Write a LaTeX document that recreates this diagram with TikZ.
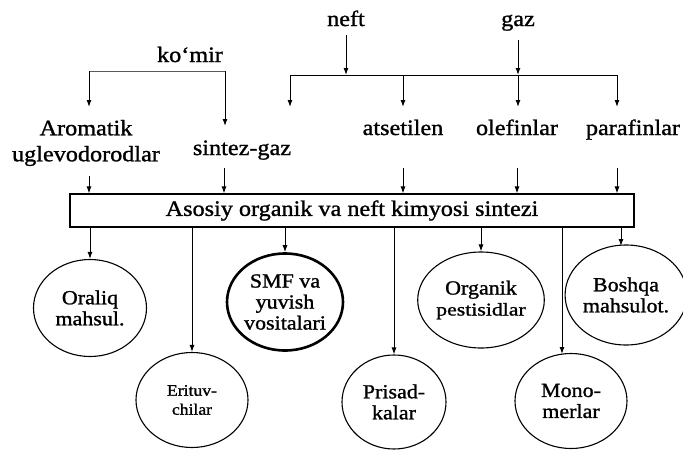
\documentclass[tikz,border=0pt]{standalone}
\usepackage{fontspec}
\usepackage{graphicx}
\setmainfont{Liberation Serif}[FakeStretch=1.1,FakeBold=1.2]
\usetikzlibrary{shapes.geometric,arrows.meta}
\begin{document}
\begin{tikzpicture}[x=1pt,y=-1pt,
  lbl/.style={font=\fontsize{22}{26}\selectfont, inner sep=0pt, anchor=base},
  lbl2/.style={font=\fontsize{22}{26}\selectfont, inner sep=0pt, align=center},
  bigbox/.style={draw, line width=1.1pt, minimum width=564pt, minimum height=33pt, inner sep=0pt,
     font=\fontsize{22}{26}\selectfont},
  circ/.style={ellipse, draw, line width=1.1pt, inner sep=0pt, align=center,
     font=\fontsize{20}{21}\selectfont},
  thickcirc/.style={circ, line width=2.6pt},
  arr/.style={-{Latex[length=7pt,width=5pt]}, line width=1pt},
  ln/.style={line width=1pt},
  faint/.style={line width=0.7pt, black!65}
]
\useasboundingbox[fill=white] (0,0) rectangle (683,450);

% sources
\node[lbl] (neft) at (346,26) {neft};
\node[lbl] (gaz) at (518,26) {gaz};
\node[lbl] (komir) at (190,62) {ko‘mir};

% intermediate products
\node[lbl2] (arom) at (86,143) {Aromatik\\uglevodorodlar};
\node[lbl] (sint) at (242,155) {sintez-gaz};
\node[lbl] (ats) at (403,135) {atsetilen};
\node[lbl] (olef) at (517,135) {olefinlar};
\node[lbl] (paraf) at (633,135) {parafinlar};

% main box
\node[bigbox] (box) at (352,210.5) {Asosiy organik va neft kimyosi sintezi};

% products
\node[circ, minimum width=113pt, minimum height=97pt] (oral) at (90,308) {Oraliq\\mahsul.};
\node[circ, minimum width=112pt, minimum height=95pt, font=\fontsize{16}{19}\selectfont] (erit) at (192,400) {Erituv-\\chilar};
\node[thickcirc, minimum width=116pt, minimum height=97pt] (smf) at (285,302) {SMF va\\yuvish\\vositalari};
\node[circ, minimum width=104pt, minimum height=94pt] (pris) at (394,402) {Prisad-\\kalar};
\node[circ, minimum width=114pt, minimum height=96pt] (orga) at (481,300) {Organik\\\scalebox{1.1}[1]{\fontsize{18}{21}\selectfont pestisidlar}};
\node[circ, minimum width=112pt, minimum height=95pt] (mono) at (571,401) {Mono-\\merlar};
\node[circ, minimum width=112pt, minimum height=100pt] (bosh) at (626,295) {Boshqa\\mahsulot.};

% ko'mir bracket
\coordinate (kL) at (89,71);
\coordinate (kR) at (225,71);
\coordinate (kLt) at (89,107);
\coordinate (kRt) at (225,126);
\draw[faint] (kL) -- (kR);
\draw[arr] (kL) -- (kLt);
\draw[arr] (kR) -- (kRt);

% neft / gaz bracket
\coordinate (nL) at (290,75);
\coordinate (nR) at (617,75);
\coordinate (nLt) at (290,107);
\draw[ln] (nL) -- (nR);
\draw[arr, shorten <=9pt] (neft.south) -- (neft.south |- nL);
\draw[arr, shorten <=9pt] (gaz.south) -- (gaz.south |- nL);
\draw[arr] (nL) -- (nLt);
\draw[arr] (ats.north |- nL) -- (ats.north |- nLt);
\draw[arr] (gaz.south |- nL) -- (gaz.south |- nLt);
\draw[arr] (nR) -- (nR |- nLt);

% into the box
\coordinate (aS) at (89,176);
\coordinate (sS) at (224,168);
\coordinate (pS) at (617,168);
\draw[arr] (aS) -- (aS |- box.north);
\draw[arr] (sS) -- (sS |- box.north);
\draw[arr] (ats.south |- sS) -- (ats.south |- box.north);
\draw[arr] (olef.south |- sS) -- (olef.south |- box.north);
\draw[arr] (pS) -- (pS |- box.north);

% out of the box
\coordinate (mX) at (562,354);
\coordinate (bX) at (621,246);
\draw[arr] (oral.north |- box.south) -- (oral.north);
\draw[arr] (erit.north |- box.south) -- (erit.north);
\draw[arr] (smf.north |- box.south) -- (smf.north);
\draw[arr] (pris.north |- box.south) -- (pris.north);
\draw[arr] (orga.north |- box.south) -- (orga.north);
\draw[arr] (mX |- box.south) -- (mX);
\draw[arr] (bX |- box.south) -- (bX);
\end{tikzpicture}
\end{document}
